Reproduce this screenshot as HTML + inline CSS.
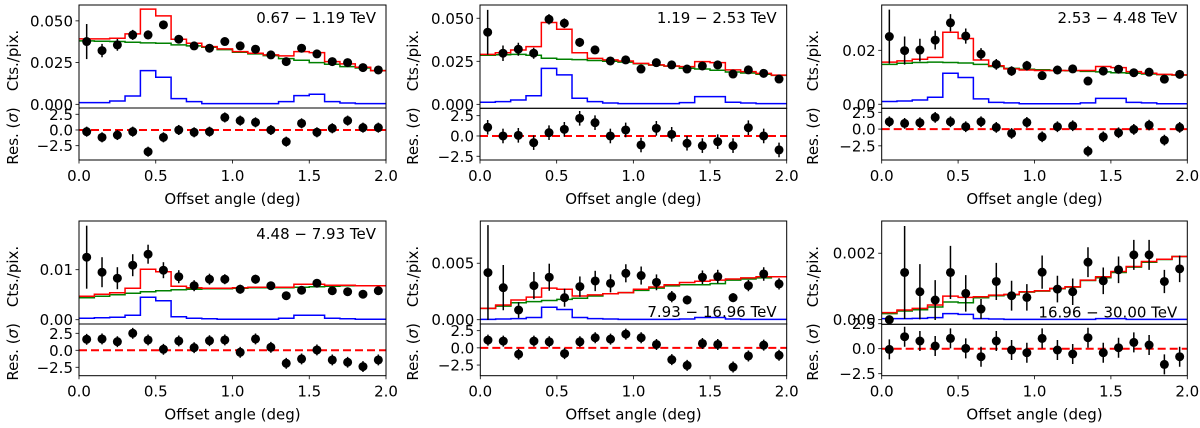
<!DOCTYPE html>
<html><head><meta charset="utf-8"><style>
html,body{margin:0;padding:0;background:#fff;}
svg{display:block;font-family:"DejaVu Sans","Liberation Sans",sans-serif;}
</style></head><body>
<svg id="fig" width="1200" height="428" viewBox="0 0 1200 428" xmlns="http://www.w3.org/2000/svg"></svg>
<script>
// ---- data: bin centers shared
const binCenters=[0.05,0.15,0.25,0.35,0.45,0.55,0.65,0.75,0.85,0.95,1.05,1.15,1.25,1.35,1.45,1.55,1.65,1.75,1.85,1.95];
const xTicks=[0.0,0.5,1.0,1.5,2.0];
const xTickLabels=["0.0","0.5","1.0","1.5","2.0"];
const resTicks=[2.5,0,-2.5];
const resTickLabels=["2.5","0.0","\u22122.5"];
const energyLabels=["0.67 \u2212 1.19 TeV","1.19 \u2212 2.53 TeV","2.53 \u2212 4.48 TeV","4.48 \u2212 7.93 TeV","7.93 \u2212 16.96 TeV","16.96 \u2212 30.00 TeV"];

// panel 1
const p1Counts=[0.0376,0.0322,0.0356,0.0416,0.0416,0.0476,0.039,0.035,0.0336,0.0376,0.035,0.033,0.0296,0.0256,0.0336,0.0302,0.0256,0.025,0.022,0.0206];
const p1Err=[0.0105,0.004,0.0035,0.003,0.0027,0.0025,0.0022,0.002,0.002,0.002,0.0019,0.0018,0.0018,0.0017,0.0017,0.0016,0.0016,0.0016,0.0015,0.0015];
const p1Red=[0.0392,0.0392,0.0396,0.0422,0.057,0.053,0.039,0.0366,0.0346,0.0332,0.0316,0.0306,0.0296,0.029,0.0316,0.031,0.0256,0.0242,0.0222,0.0202];
const p1Green=[0.038,0.0378,0.0376,0.0372,0.0368,0.0366,0.0356,0.035,0.0342,0.0328,0.0312,0.0302,0.0292,0.0274,0.0264,0.025,0.024,0.0226,0.0218,0.0202];
const p1Blue=[0.001,0.001,0.002,0.005,0.0202,0.0162,0.0034,0.0016,0.0004,0.0004,0.0004,0.0004,0.0004,0.0016,0.0052,0.006,0.0016,0.0008,0.0004,0.0004];
const p1Res=[-0.27,-1.17,-0.8,-0.27,-3.46,-1.17,0,-0.37,-0.27,2.0,1.49,1.22,0,-1.86,1.06,-0.37,0.27,1.49,0.37,0.37];
const p1Ticks=[0,0.025,0.05]; const p1TickLabels=["0.000","0.025","0.050"];
// panel 2
const p2Counts=[0.0419,0.0297,0.032,0.0297,0.0494,0.0471,0.036,0.0316,0.0252,0.0258,0.0205,0.0242,0.0229,0.0205,0.0223,0.0229,0.0176,0.02,0.018,0.0147];
const p2Err=[0.013,0.0045,0.0038,0.0032,0.003,0.0028,0.0026,0.0024,0.0022,0.0021,0.002,0.002,0.0019,0.0019,0.0018,0.0018,0.0017,0.0017,0.0017,0.0016];
const p2Red=[0.029,0.030,0.0316,0.0335,0.0475,0.0436,0.030,0.0267,0.0258,0.0252,0.0238,0.0229,0.0223,0.0219,0.0248,0.0242,0.02,0.019,0.018,0.017];
const p2Green=[0.0285,0.0288,0.029,0.0285,0.0268,0.0262,0.026,0.0255,0.025,0.0245,0.0236,0.0228,0.0222,0.021,0.0205,0.0198,0.0188,0.0182,0.0175,0.0168];
const p2Blue=[0.0012,0.0016,0.0025,0.005,0.0209,0.0171,0.0035,0.0016,0.0008,0.0004,0.0004,0.0004,0.0004,0.001,0.0045,0.0045,0.0012,0.0008,0.0004,0.0004];
const p2Res=[1.07,0,0.08,-0.82,0.41,0.82,2.17,1.64,0,0.74,-1.11,0.94,0.2,-0.9,-1.19,-0.7,-1.19,1.02,0,-1.72];
const p2Ticks=[0,0.025,0.05]; const p2TickLabels=["0.000","0.025","0.050"];
// panel 3
const p3Counts=[0.0251,0.0199,0.0201,0.0238,0.0302,0.0253,0.0186,0.0148,0.0123,0.0143,0.0106,0.0127,0.0131,0.0086,0.0123,0.013,0.0117,0.0119,0.0093,0.0111];
const p3Err=[0.0100,0.0052,0.0042,0.0035,0.0032,0.0028,0.0022,0.002,0.0018,0.0018,0.0016,0.0016,0.0015,0.0014,0.0014,0.0014,0.0013,0.0013,0.0013,0.0013];
const p3Red=[0.0156,0.0161,0.0167,0.0174,0.0267,0.0244,0.0164,0.0143,0.0131,0.0127,0.0125,0.0125,0.0125,0.0125,0.014,0.0136,0.0121,0.0115,0.0111,0.0109];
const p3Green=[0.0148,0.0152,0.0155,0.0156,0.0155,0.0153,0.0148,0.014,0.0133,0.013,0.0128,0.0125,0.0124,0.0122,0.012,0.0117,0.0115,0.0112,0.011,0.0108];
const p3Blue=[0.001,0.0012,0.0016,0.0026,0.0115,0.0099,0.002,0.0007,0.0005,0.0002,0.0002,0.0002,0.0002,0.0005,0.0022,0.0022,0.0007,0.0005,0.0002,0.0002];
const p3Res=[1.1,0.85,0.95,1.75,1.1,0.35,1.1,0.25,-0.65,1.0,-1.15,0.35,0.5,-3.3,-1.15,-0.55,-0.05,0.6,-1.65,0.25];
const p3Ticks=[0,0.02]; const p3TickLabels=["0.00","0.02"];
// panel 4
const p4Counts=[0.0125,0.0095,0.0083,0.0109,0.0131,0.0099,0.0086,0.0068,0.0081,0.0081,0.0061,0.0081,0.0068,0.0048,0.0059,0.0073,0.0058,0.0056,0.0051,0.0058];
const p4Err=[0.0063,0.003,0.0022,0.0022,0.0019,0.0016,0.0013,0.0011,0.0011,0.001,0.0009,0.0009,0.0008,0.0008,0.0008,0.0008,0.0007,0.0007,0.0007,0.0007];
const p4Red=[0.0047,0.0051,0.0054,0.0063,0.0101,0.0096,0.0067,0.0064,0.0063,0.0063,0.0064,0.0065,0.0065,0.0065,0.0071,0.0071,0.0069,0.0069,0.0068,0.0068];
const p4Green=[0.0044,0.0047,0.005,0.0053,0.0056,0.0058,0.006,0.0061,0.0062,0.0062,0.0063,0.0064,0.0064,0.0064,0.0065,0.0066,0.0067,0.0068,0.0068,0.0068];
const p4Blue=[0.0003,0.0004,0.0005,0.0009,0.0045,0.0038,0.0006,0.0003,0.0002,0.0001,0.0001,0.0001,0.0001,0.0003,0.0009,0.0009,0.0003,0.0002,0.0001,0.0001];
const p4Res=[1.62,1.67,1.27,2.5,1.52,0.15,1.37,0.39,1.42,1.52,-0.29,1.67,0.44,-1.91,-1.27,0.05,-1.42,-1.76,-2.4,-1.42];
const p4Ticks=[0,0.01]; const p4TickLabels=["0.00","0.01"];
// panel 5
const p5Counts=[0.00417,0.00284,0.00086,0.00302,0.00376,0.00195,0.00293,0.00343,0.00322,0.00411,0.00391,0.00331,0.00204,0.00175,0.00376,0.00382,0.00195,0.00302,0.00405,0.00317];
const p5Err=[0.0042,0.002,0.0007,0.0012,0.0012,0.0008,0.0009,0.0009,0.0008,0.0008,0.0008,0.0007,0.0005,0.0004,0.0006,0.0006,0.0004,0.0005,0.0006,0.0005];
const p5Red=[0.001,0.0013,0.00175,0.002,0.0028,0.0027,0.0021,0.0022,0.0023,0.0024,0.0027,0.0029,0.0031,0.0033,0.0034,0.0035,0.0036,0.0037,0.0038,0.0038];
const p5Green=[0.001,0.0012,0.0015,0.0016,0.0017,0.0018,0.0019,0.0021,0.0023,0.0024,0.0026,0.0028,0.003,0.0031,0.0031,0.0032,0.0035,0.0036,0.0037,0.0038];
const p5Blue=[0.00003,0.00006,0.0001,0.0002,0.0011,0.0009,0.0002,0.0001,0.00006,0.00003,0.00003,0.00003,0.00003,0.00006,0.0002,0.0002,0.00006,0.00003,0.00003,0.00003];
const p5Res=[1.13,0.98,-0.93,0.98,0.88,-0.83,0.88,1.47,1.27,2.0,1.47,0.49,-1.72,-2.55,0.64,0.49,-2.79,-1.18,0.39,-1.08];
const p5Ticks=[0,0.005]; const p5TickLabels=["0.000","0.005"];
// panel 6
const p6Counts=[0,0.00142,0.00084,0.00059,0.00142,0.00079,0.00032,0.00115,0.00072,0.00067,0.00143,0.00092,0.00084,0.00173,0.00117,0.0015,0.00195,0.00195,0.00115,0.00153];
const p6Err=[0.00005,0.0014,0.00083,0.0006,0.0008,0.00055,0.0003,0.00056,0.00045,0.0004,0.0005,0.0004,0.0004,0.00045,0.0004,0.0004,0.00045,0.00045,0.00035,0.0004];
const p6Red=[0.00021,0.00029,0.00034,0.00044,0.00071,0.00067,0.00069,0.00074,0.00076,0.00084,0.00087,0.00094,0.00099,0.00119,0.00129,0.00145,0.0016,0.00175,0.00182,0.0019];
const p6Green=[0.00018,0.00026,0.0003,0.00038,0.00053,0.00051,0.00066,0.00072,0.00075,0.00083,0.00086,0.00093,0.00098,0.00118,0.00126,0.00142,0.00158,0.00173,0.00181,0.0019];
const p6Blue=[0.00003,0.00003,0.00004,0.00006,0.00018,0.00016,0.00003,0.00002,0.00001,0.00001,0.00001,0.00001,0.00001,0.00001,0.00003,0.00003,0.00001,0.00001,0.00001,0.00001];
const p6Res=[-0.07,1.2,0.77,0.27,1.03,0.03,-0.8,0.77,-0.13,-0.4,1.03,-0.13,-0.53,1.1,-0.4,0.1,0.63,0.37,-1.57,-0.8];
const p6Ticks=[0,0.002]; const p6TickLabels=["0.000","0.002"];
const resErr=[0.8,0.9,0.8,0.8,0.8,1.0];

const NS="http://www.w3.org/2000/svg";
const svg=document.getElementById('fig');
const FS=15;
function mk(tag,attrs,parent){const e=document.createElementNS(NS,tag);for(const k in attrs)e.setAttribute(k,attrs[k]);(parent||svg).appendChild(e);return e;}

const geoms=[
 {x0:79,x1:386,top:5,mid:108,bot:160,ylo:-0.0022,yhi:0.0595,rlo:-4.78,rhi:3.5,ylx:13,lab:'top'},
 {x0:480,x1:786.7,top:5,mid:108.3,bot:160,ylo:-0.0023,yhi:0.0577,rlo:-2.96,rhi:3.41,ylx:413,lab:'top'},
 {x0:881.7,x1:1187.3,top:5,mid:108.3,bot:160,ylo:-0.0015,yhi:0.0368,rlo:-4.61,rhi:3.1,ylx:813,lab:'top'},
 {x0:79,x1:386,top:221,mid:324,bot:375.7,ylo:-0.00086,yhi:0.01974,rlo:-3.74,rhi:3.87,ylx:13,lab:'top'},
 {x0:480.3,x1:786.7,top:221,mid:324,bot:375.7,ylo:-0.00038,yhi:0.00874,rlo:-4.05,rhi:3.47,ylx:413,lab:'bottom'},
 {x0:881.7,x1:1187.3,top:221,mid:324.3,bot:375.7,ylo:-0.00014,yhi:0.00297,rlo:-2.7,rhi:2.44,ylx:813,lab:'bottom'}
];
const panelData=[
 [p1Counts,p1Err,p1Red,p1Green,p1Blue,p1Res,p1Ticks,p1TickLabels],
 [p2Counts,p2Err,p2Red,p2Green,p2Blue,p2Res,p2Ticks,p2TickLabels],
 [p3Counts,p3Err,p3Red,p3Green,p3Blue,p3Res,p3Ticks,p3TickLabels],
 [p4Counts,p4Err,p4Red,p4Green,p4Blue,p4Res,p4Ticks,p4TickLabels],
 [p5Counts,p5Err,p5Red,p5Green,p5Blue,p5Res,p5Ticks,p5TickLabels],
 [p6Counts,p6Err,p6Red,p6Green,p6Blue,p6Res,p6Ticks,p6TickLabels]
];
const defs=mk('defs',{});

function stepPath(vals,xs,ys){
  let d='';
  vals.forEach((v,i)=>{const xa=xs(binCenters[i]-0.05),xb=xs(binCenters[i]+0.05),y=ys(v);
    d+=(i===0?'M':'L')+xa.toFixed(2)+','+y.toFixed(2)+'L'+xb.toFixed(2)+','+y.toFixed(2);});
  return d;
}

geoms.forEach((g,pi)=>{
  const [cnt,err,red,green,blue,res,ticks,tlabels]=panelData[pi];
  const xs=v=>g.x0+v/2*(g.x1-g.x0);
  const ys=v=>g.mid-(v-g.ylo)/(g.yhi-g.ylo)*(g.mid-g.top);
  const rs=v=>g.bot-(v-g.rlo)/(g.rhi-g.rlo)*(g.bot-g.mid);
  const grp=mk('g',{});
  
  
  const c1=mk('clipPath',{id:'cm'+pi},defs); mk('rect',{x:g.x0,y:g.top,width:g.x1-g.x0,height:g.mid-g.top},c1);
  const c2=mk('clipPath',{id:'cr'+pi},defs); mk('rect',{x:g.x0,y:g.mid,width:g.x1-g.x0,height:g.bot-g.mid},c2);
  const main=mk('g',{'clip-path':'url(#cm'+pi+')'},grp);
  
  
  const gl=mk('path',{d:stepPath(green,xs,ys),fill:'none',stroke:'#008000','stroke-width':1.5},main);
  
  
  const bl=mk('path',{d:stepPath(blue,xs,ys),fill:'none',stroke:'#0000ff','stroke-width':1.5},main);
  
  
  const rl=mk('path',{d:stepPath(red,xs,ys),fill:'none',stroke:'#ff0000','stroke-width':1.5},main);
  
  
  cnt.forEach((v,i)=>{
    const x=xs(binCenters[i]);
    const eb=mk('line',{x1:x,x2:x,y1:ys(v-err[i]),y2:ys(v+err[i]),stroke:'#000','stroke-width':1.5},main);
    
    
    const pt=mk('circle',{cx:x,cy:ys(v),r:4.5,fill:'#000'},main);
    
    
  });
  const rp=mk('g',{'clip-path':'url(#cr'+pi+')'},grp);
  
  
  const zl=mk('line',{x1:g.x0,x2:g.x1,y1:rs(0),y2:rs(0),stroke:'#ff0000','stroke-width':2,'stroke-dasharray':'8,4'},rp);
  
  
  res.forEach((v,i)=>{
    const x=xs(binCenters[i]);
    const eb=mk('line',{x1:x,x2:x,y1:rs(v-resErr[pi]),y2:rs(v+resErr[pi]),stroke:'#000','stroke-width':1.5},rp);
    
    
    const pt=mk('circle',{cx:x,cy:rs(v),r:4.5,fill:'#000'},rp);
    
    
  });
  const f1=mk('rect',{x:g.x0,y:g.top,width:g.x1-g.x0,height:g.mid-g.top,fill:'none',stroke:'#000','stroke-width':1},grp);
  
  
  const f2=mk('rect',{x:g.x0,y:g.mid,width:g.x1-g.x0,height:g.bot-g.mid,fill:'none',stroke:'#000','stroke-width':1},grp);
  
  
  ticks.forEach((t,i)=>{
    const y=ys(t);
    mk('line',{x1:g.x0-3.5,x2:g.x0,y1:y,y2:y,stroke:'#000','stroke-width':0.8},grp);
    const tx=mk('text',{x:g.x0-6,y:y+5.5,'text-anchor':'end','font-size':FS,fill:'#000'},grp);
    tx.textContent=tlabels[i];
    
    
  });
  resTicks.forEach((t,i)=>{
    const y=rs(t);
    mk('line',{x1:g.x0-3.5,x2:g.x0,y1:y,y2:y,stroke:'#000','stroke-width':0.8},grp);
    const tx=mk('text',{x:g.x0-6,y:y+5.5,'text-anchor':'end','font-size':FS,fill:'#000'},grp);
    tx.textContent=resTickLabels[i];
    
    
  });
  xTicks.forEach((t,i)=>{
    const x=xs(t);
    mk('line',{x1:x,x2:x,y1:g.bot,y2:g.bot+3.5,stroke:'#000','stroke-width':0.8},grp);
    const tx=mk('text',{x:x,y:g.bot+21,'text-anchor':'middle','font-size':FS,fill:'#000'},grp);
    tx.textContent=xTickLabels[i];
    
    
  });
  const xl=mk('text',{x:(g.x0+g.x1)/2,y:g.bot+44,'text-anchor':'middle','font-size':FS,fill:'#000'},grp);
  xl.textContent='Offset angle (deg)';
  
  
  const cy=(g.top+g.mid)/2+4, ry=(g.mid+g.bot)/2+2;
  const yl=mk('text',{x:0,y:0,transform:'translate('+(g.ylx+5)+','+cy+') rotate(-90)','text-anchor':'middle','font-size':FS,fill:'#000'},grp);
  yl.textContent='Cts./pix.';
  
  
  const rl2=mk('text',{x:0,y:0,transform:'translate('+(g.ylx+5)+','+ry+') rotate(-90)','text-anchor':'middle','font-size':FS,fill:'#000'},grp);
  rl2.innerHTML='Res. (<tspan font-style="italic">σ</tspan>)';
  
  
  const ly=g.lab==='top'?g.top+18:g.mid-7;
  const el=mk('text',{x:g.x1-10,y:ly,'text-anchor':'end','font-size':FS,fill:'#000'},grp);
  el.textContent=energyLabels[pi];
  
  
});
</script>
</body></html>
